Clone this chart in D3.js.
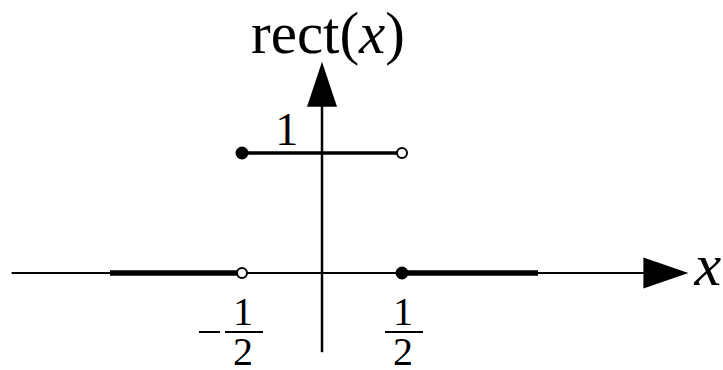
<!DOCTYPE html>
<html>
<head>
<meta charset="utf-8">
<script src="https://cdn.jsdelivr.net/npm/d3@7"></script>
<style>
  html, body { margin: 0; padding: 0; background: #fff; }
  svg { display: block; }
</style>
</head>
<body>
<svg id="chart" width="723" height="370"></svg>
<script>
// rect(x): the unit rectangle function, piecewise constant
const segments = [
  { x0: -1.325, x1: -0.5, y: 0 },
  { x0: -0.5, x1: 0.5, y: 1 },
  { x0: 0.5, x1: 1.35, y: 0 }
];
// endpoint markers: filled = value taken, open = value excluded
const filledPoints = [ { x: -0.5, y: 1 }, { x: 0.5, y: 0 } ];
const openPoints = [ { x: 0.5, y: 1 }, { x: -0.5, y: 0 } ];
// tick labels on the x axis (as fractions) and the y axis
const xTicks = [ { x: -0.5, sign: "-", num: "1", den: "2" }, { x: 0.5, sign: "", num: "1", den: "2" } ];
const yTicks = [ { y: 1, label: "1" } ];
const xDomain = [-1.94, 2.29];
const yDomain = [-0.66, 1.76];

const SERIF = "'Liberation Serif', 'DejaVu Serif', 'Times New Roman', Times, serif";

const svg = d3.select("#chart");
const x = d3.scaleLinear().domain([-0.5, 0.5]).range([242, 402]);
const y = d3.scaleLinear().domain([0, 1]).range([273, 153]);

// axes
svg.append("line")
  .attr("x1", x(xDomain[0])).attr("x2", x(xDomain[1]) - 40)
  .attr("y1", y(0)).attr("y2", y(0))
  .attr("stroke", "#000").attr("stroke-width", 2);
svg.append("line")
  .attr("x1", x(0)).attr("x2", x(0))
  .attr("y1", y(yDomain[0])).attr("y2", y(yDomain[1]) + 40)
  .attr("stroke", "#000").attr("stroke-width", 2.5);

// arrow heads
const xt = x(xDomain[1]), yt = y(yDomain[1]);
svg.append("path")
  .attr("d", `M${xt},${y(0)} L${xt - 45},${y(0) - 15.5} L${xt - 45},${y(0) + 15.5} Z`)
  .attr("fill", "#000");
svg.append("path")
  .attr("d", `M${x(0)},${yt} L${x(0) - 15},${yt + 45} L${x(0) + 15},${yt + 45} Z`)
  .attr("fill", "#000");

// function segments
svg.selectAll("line.seg").data(segments).enter().append("line")
  .attr("class", "seg")
  .attr("x1", d => x(d.x0)).attr("x2", d => x(d.x1))
  .attr("y1", d => y(d.y)).attr("y2", d => y(d.y))
  .attr("stroke", "#000")
  .attr("stroke-width", d => d.y === 0 ? 5.5 : 3.5);

svg.selectAll("circle.filled").data(filledPoints).enter().append("circle")
  .attr("class", "filled")
  .attr("cx", d => x(d.x)).attr("cy", d => y(d.y))
  .attr("r", 6.5).attr("fill", "#000");

svg.selectAll("circle.open").data(openPoints).enter().append("circle")
  .attr("class", "open")
  .attr("cx", d => x(d.x)).attr("cy", d => y(d.y))
  .attr("r", 5).attr("fill", "#fff")
  .attr("stroke", "#000").attr("stroke-width", 2);

// y tick label
svg.selectAll("text.ytick").data(yTicks).enter().append("text")
  .attr("class", "ytick")
  .attr("x", x(-0.22)).attr("y", d => y(d.y) - 8)
  .attr("text-anchor", "middle")
  .attr("font-family", SERIF)
  .attr("font-size", 46)
  .text(d => d.label);

// x tick labels as stacked fractions
const fr = svg.selectAll("g.xtick").data(xTicks).enter().append("g")
  .attr("class", "xtick")
  .attr("font-family", SERIF)
  .attr("transform", d => `translate(${x(d.x) + 1},0)`);
fr.append("text").attr("x", 0).attr("y", 325)
  .attr("text-anchor", "middle").attr("font-size", 40).text(d => d.num);
fr.append("text").attr("x", 0).attr("y", 365)
  .attr("text-anchor", "middle").attr("font-size", 40).text(d => d.den);
fr.append("line").attr("x1", -18).attr("x2", 20).attr("y1", 332).attr("y2", 332)
  .attr("stroke", "#000").attr("stroke-width", 2);
fr.filter(d => d.sign === "-").append("line")
  .attr("x1", -44).attr("x2", -23).attr("y1", 332).attr("y2", 332)
  .attr("stroke", "#000").attr("stroke-width", 2);

// axis titles
const title = svg.append("text")
  .attr("x", x(0) + 6).attr("y", 53)
  .attr("font-family", SERIF)
  .attr("text-anchor", "middle").attr("font-size", 59);
title.append("tspan").text("rect(");
title.append("tspan").attr("font-style", "italic").text("x");
title.append("tspan").text(")");

svg.append("text")
  .attr("x", xt + 6).attr("y", 285)
  .attr("font-family", SERIF)
  .attr("font-size", 60).attr("font-style", "italic")
  .text("x");
</script>
</body>
</html>
